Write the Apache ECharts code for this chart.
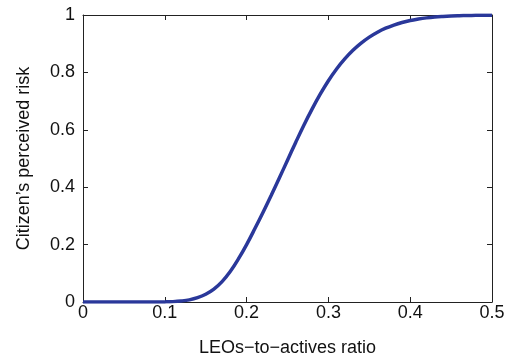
<!DOCTYPE html>
<html><head><meta charset="utf-8">
<script src="https://cdn.jsdelivr.net/npm/echarts@6/dist/echarts.min.js"></script>
<style>html,body{margin:0;padding:0;background:#fff}#c{width:511px;height:359px}</style>
</head><body><div id="c"></div>
<script>
var ratio = [0.00,0.03,0.06,0.08,0.09,0.10,0.11,0.12,0.13,0.14,0.15,0.16,0.17,0.18,0.19,0.20,0.21,0.22,0.23,0.24,0.25,0.26,0.27,0.28,0.29,0.30,0.31,0.32,0.33,0.34,0.35,0.36,0.37,0.38,0.39,0.40,0.41,0.42,0.43,0.44,0.45,0.46,0.47,0.48,0.49,0.50];
var risk  = [0.000,0.000,0.000,0.000,0.0001,0.0004,0.0013,0.0035,0.0075,0.015,0.027,0.045,0.071,0.106,0.150,0.200,0.255,0.312,0.371,0.432,0.494,0.556,0.616,0.672,0.724,0.771,0.812,0.847,0.877,0.902,0.923,0.940,0.954,0.965,0.974,0.981,0.986,0.990,0.993,0.995,0.9965,0.9975,0.9983,0.9988,0.9992,0.9995];
var xTicks = [0,0.1,0.2,0.3,0.4,0.5];
var yTicks = [0,0.2,0.4,0.6,0.8,1];
var xTitle = 'LEOs\u2212to\u2212actives ratio';
var yTitle = 'Citizen\u2019s perceived risk';

var FONT = 'Liberation Sans, Arial, sans-serif';
var AX = '#222';
var data = ratio.map(function(x,i){return [x, risk[i]];});
function axisBase(){
  return {
    axisLine:{show:true,onZero:false,lineStyle:{color:AX,width:1}},
    axisTick:{show:true,inside:true,length:5,lineStyle:{color:AX,width:1}},
    splitLine:{show:false}
  };
}
var chart = echarts.init(document.getElementById('c'));
var xb = Object.assign(axisBase(), {type:'value',min:xTicks[0],max:xTicks[xTicks.length-1],interval:0.1,position:'bottom',
  name:xTitle,nameLocation:'middle',nameGap:37,nameTextStyle:{fontFamily:FONT,fontSize:18,color:'#111'},
  axisLabel:{fontFamily:FONT,fontSize:18,color:'#111',margin:2,formatter:function(v){return String(+v.toFixed(1));}}});
var xt = Object.assign(axisBase(), {type:'value',min:0,max:0.5,interval:0.1,position:'top',axisLabel:{show:false}});
var yl = Object.assign(axisBase(), {type:'value',min:yTicks[0],max:yTicks[yTicks.length-1],interval:0.2,position:'left',
  name:yTitle,nameLocation:'middle',nameGap:50,nameTextStyle:{fontFamily:FONT,fontSize:18,color:'#111'},
  axisLabel:{fontFamily:FONT,fontSize:18,color:'#111',margin:8,formatter:function(v){return String(+v.toFixed(1));}}});
var yr = Object.assign(axisBase(), {type:'value',min:0,max:1,interval:0.2,position:'right',axisLabel:{show:false}});
chart.setOption({
  animation:false,
  grid:{left:83,right:19,top:15,bottom:57,containLabel:false,outerBoundsMode:'none'},
  xAxis:[xb,xt],
  yAxis:[yl,yr],
  series:[{type:'line',data:data,xAxisIndex:0,yAxisIndex:0,smooth:0.4,showSymbol:false,symbol:'none',
    lineStyle:{color:'#2a389a',width:3.5}}]
});
</script></body></html>
